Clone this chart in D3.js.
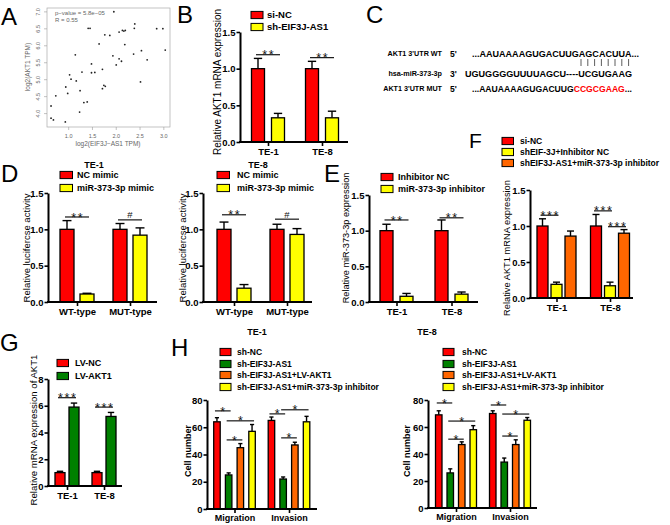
<!DOCTYPE html>
<html><head><meta charset="utf-8">
<script src="https://cdn.jsdelivr.net/npm/d3@7"></script>
<style>
body{margin:0;background:#fff;}
text{font-family:"Liberation Sans",Arial,sans-serif;}
</style></head>
<body><svg id="fig" width="670" height="525"></svg>
<script>
// ---------------- DATA ----------------
// Panel A scatter
const aX=[0.64,0.64,0.69,0.74,0.94,0.95,0.99,1.03,1.06,1.17,1.15,1.25,1.24,1.29,1.33,1.40,1.42,1.46,1.49,1.49,1.56,1.65,1.72,1.72,1.75,1.78,1.77,1.875,1.96,1.94,2.01,2.07,2.07,2.12,2.14,2.17,2.20,2.19,2.375,2.39,2.40,2.52,2.54,2.66,2.86,2.99,3.04];
const aY=[4.21,3.85,3.80,4.51,3.74,4.77,4.58,5.13,5.00,4.95,5.72,4.66,4.03,5.21,4.31,4.33,6.50,6.50,5.45,5.19,5.20,6.04,5.29,4.72,4.82,4.79,6.31,6.29,6.99,5.69,5.42,6.39,5.60,5.53,6.44,6.42,6.44,6.02,5.74,6.50,6.63,4.92,5.84,5.57,6.49,6.49,5.86];
const aXTicks=[1.0,1.5,2.0,2.5,3.0];
const aYTicks=[4.0,4.5,5.0,5.5,6.0,6.5,7.0];
const aStats=["p\u2212value = 5.8e\u221205","R = 0.55"];

// Panel B
const bGroups=["TE-1","TE-8"];
const bSeries=["si-NC","sh-EIF3J-AS1"];
const bValues=[[1.00,0.33],[1.00,0.33]];
const bErr=[[0.14,0.06],[0.10,0.09]];
const bSig=[{g:0,a:0,b:1,y:1.19,t:"**"},{g:1,a:0,b:1,y:1.15,t:"**"}];

// Panel C
const cLabels=["AKT1 3'UTR WT","hsa-miR-373-3p","AKT1 3'UTR MUT"];
const cEnds=["5'","3'","5'"];
const cWT="...AAUAAAAGUGACUUGAGCACUUA...";
const cMiR="UGUGGGGUUUUAGCU----UCGUGAAG";
const cMutA="...AAUAAAAGUGACUUG", cMutB="CCGCGAAG", cMutC="...";

// Panel D
const dGroups=["WT-type","MUT-type"];
const dSeries=["NC mimic","miR-373-3p mimic"];
const d1Values=[[1.00,0.11],[1.00,0.92]];
const d1Err=[[0.12,0.01],[0.08,0.10]];
const d1Sig=[{g:0,a:0,b:1,y:1.17,t:"**"},{g:1,a:0,b:1,y:1.13,t:"#"}];
const d8Values=[[1.00,0.19],[1.00,0.93]];
const d8Err=[[0.10,0.05],[0.07,0.08]];
const d8Sig=[{g:0,a:0,b:1,y:1.20,t:"**"},{g:1,a:0,b:1,y:1.14,t:"#"}];

// Panel E
const eGroups=["TE-1","TE-8"];
const eSeries=["Inhibitor NC","miR-373-3p inhibitor"];
const eValues=[[1.00,0.08],[1.00,0.11]];
const eErr=[[0.09,0.04],[0.15,0.03]];
const eSig=[{g:0,a:0,b:1,y:1.15,t:"**"},{g:1,a:0,b:1,y:1.18,t:"**"}];

// Panel F
const fGroups=["TE-1","TE-8"];
const fSeries=["si-NC","shEIF-3J+Inhibitor NC","shEIF3J-AS1+miR-373-3p inhibitor"];
const fValues=[[1.00,0.19,0.86],[1.00,0.17,0.90]];
const fErr=[[0.10,0.03,0.07],[0.16,0.05,0.05]];
const fSig=[{g:0,a:0,b:1,y:1.15,t:"***"},{g:1,a:0,b:1,y:1.21,t:"***"},{g:1,a:1,b:2,y:0.99,t:"***"}];

// Panel G
const gGroups=["TE-1","TE-8"];
const gSeries=["LV-NC","LV-AKT1"];
const gValues=[[1.0,5.9],[1.0,5.2]];
const gErr=[[0.1,0.3],[0.1,0.3]];
const gSig=[{g:0,a:0,b:1,y:6.6,t:"***"},{g:1,a:0,b:1,y:5.9,t:"***"}];

// Panel H
const hGroups=["Migration","Invasion"];
const hSeries=["sh-NC","sh-EIF3J-AS1","sh-EIF3J-AS1+LV-AKT1","sh-EIF3J-AS1+miR-373-3p inhibitor"];
const h1Values=[[64,25,45,57],[65,22,47,64]];
const h1Err=[[3,1.5,3,5],[2.5,1.5,2,4]];
const h1Sig=[{g:0,a:0,b:1,y:72,t:"*"},{g:0,a:1,b:3,y:64.7,t:"*"},{g:0,a:1,b:2,y:50.7,t:"*"},
             {g:1,a:0,b:1,y:69.8,t:"*"},{g:1,a:1,b:3,y:72.8,t:"*"},{g:1,a:1,b:2,y:52.2,t:"*"}];
const h8Values=[[69,26,47,58],[70,34,47,65]];
const h8Err=[[3,3,2,3],[2,3,3.5,2]];
const h8Sig=[{g:0,a:0,b:1,y:77.8,t:"*"},{g:0,a:1,b:3,y:64.4,t:"*"},{g:0,a:1,b:2,y:51,t:"*"},
             {g:1,a:0,b:1,y:76.3,t:"*"},{g:1,a:1,b:3,y:69.6,t:"*"},{g:1,a:1,b:2,y:53.3,t:"*"}];

const RED="#ff0000",YEL="#ffff00",GRN="#008000",ORG="#ff6600";

// ---------------- DRAW ----------------
const svg=d3.select("#fig");
svg.append("rect").attr("width",670).attr("height",525).attr("fill","#fff");

function panelLetter(t,x,y,s){
  svg.append("text").attr("x",x).attr("y",y).attr("font-size",s||24).attr("fill","#000").text(t);
}
panelLetter("A",1,25);panelLetter("B",177,23);panelLetter("C",366,23);
panelLetter("D",1,182);panelLetter("E",324,182);panelLetter("F",469,148,21);
panelLetter("G",0,351);panelLetter("H",171,356);

// ---- Panel A ----
(function(){
  const g=svg.append("g");
  const x=d3.scaleLinear().domain([0.555,3.14]).range([47,170]);
  const y=d3.scaleLinear().domain([3.59,7.1]).range([127,8]);
  const col="#666";
  g.append("rect").attr("x",47).attr("y",8).attr("width",123).attr("height",119)
    .attr("fill","none").attr("stroke","#aaa").attr("stroke-width",0.7);
  const xa=g.append("g").attr("transform","translate(0,127)")
    .call(d3.axisBottom(x).tickValues(aXTicks).tickSize(3).tickFormat(d3.format(".1f")));
  const ya=g.append("g").attr("transform","translate(47,0)")
    .call(d3.axisLeft(y).tickValues(aYTicks).tickSize(3).tickFormat(d3.format(".1f")));
  [xa,ya].forEach(a=>{a.select(".domain").remove();
    a.selectAll("line").attr("stroke","#999").attr("stroke-width",0.6);
    a.selectAll("text").attr("fill",col).attr("font-size",5.5);});
  xa.selectAll("text").attr("dy","0.9em");
  ya.selectAll(".tick text").each(function(){
    d3.select(this).attr("x",0).attr("dy",null).attr("text-anchor","middle")
     .attr("transform","translate(-7,0) rotate(-90)");
  });
  g.selectAll("circle").data(aX).join("circle")
    .attr("cx",(d)=>x(d)).attr("cy",(d,i)=>y(aY[i])).attr("r",0.9).attr("fill","#222");
  g.append("text").attr("x",55).attr("y",15).attr("font-size",6).attr("fill",col).text(aStats[0]);
  g.append("text").attr("x",55).attr("y",22).attr("font-size",6).attr("fill",col).text(aStats[1]);
  g.append("text").attr("x",108).attr("y",146).attr("text-anchor","middle").attr("font-size",6.5)
    .attr("fill",col).text("log2(EIF3J\u2212AS1 TPM)");
  g.append("text").attr("transform","translate(30,67) rotate(-90)").attr("text-anchor","middle")
    .attr("font-size",6.5).attr("fill",col).text("log2(AKT1 TPM)");
})();

// ---- Panel C ----
(function(){
  const g=svg.append("g");
  const rows=[53,73,88];
  cLabels.forEach((l,i)=>{
    g.append("text").attr("x",442).attr("y",rows[i]+3).attr("text-anchor","end")
      .attr("font-size",7.2).attr("font-weight","bold").text(l);
    g.append("text").attr("x",450).attr("y",rows[i]+3.5).attr("font-size",8.5)
      .attr("font-weight","bold").text(cEnds[i]);
  });
  g.append("text").attr("x",472).attr("y",rows[0]+3.5).attr("font-size",8.6).attr("font-weight","bold")
    .attr("textLength",167).attr("lengthAdjust","spacingAndGlyphs").text(cWT);
  g.append("text").attr("x",465).attr("y",rows[1]+3.5).attr("font-size",8.6).attr("font-weight","bold")
    .attr("textLength",167).attr("lengthAdjust","spacingAndGlyphs").text(cMiR);
  const t=g.append("text").attr("x",472).attr("y",rows[2]+3.5).attr("font-size",8.6).attr("font-weight","bold");
  t.append("tspan").text(cMutA);
  t.append("tspan").attr("fill","#ff0000").text(cMutB);
  t.append("tspan").text(cMutC);
  g.selectAll("line.pair").data(d3.range(8)).join("line").attr("class","pair")
    .attr("x1",d=>581+d*6.8).attr("x2",d=>581+d*6.8).attr("y1",59).attr("y2",66)
    .attr("stroke","#333").attr("stroke-width",0.8);
})();

// ---- generic bar panel ----
function barPanel(c){
  const g=svg.append("g");
  const y=d3.scaleLinear().domain([0,c.yMax]).range([c.y0,c.y1]);
  const xc=d3.scalePoint().domain(c.groups).range(c.centers);
  const ns=c.series.length;
  const off=d3.scaleLinear().domain([0,ns-1]).range([-(ns-1)*c.step/2,(ns-1)*c.step/2]);
  const bx=(gi,si)=>xc(c.groups[gi])+off(si);
  const rows=[];
  c.values.forEach((vs,gi)=>vs.forEach((v,si)=>rows.push({gi,si,v,e:c.err[gi][si]})));
  g.selectAll("line.err").data(rows).join("line").attr("class","err")
    .attr("x1",d=>bx(d.gi,d.si)).attr("x2",d=>bx(d.gi,d.si))
    .attr("y1",d=>y(d.v)).attr("y2",d=>y(d.v+d.e)).attr("stroke","#000").attr("stroke-width",1.4);
  g.selectAll("line.cap").data(rows).join("line").attr("class","cap")
    .attr("x1",d=>bx(d.gi,d.si)-c.barW*0.32).attr("x2",d=>bx(d.gi,d.si)+c.barW*0.32)
    .attr("y1",d=>y(d.v+d.e)).attr("y2",d=>y(d.v+d.e)).attr("stroke","#000").attr("stroke-width",1.4);
  g.selectAll("rect.bar").data(rows).join("rect").attr("class","bar")
    .attr("x",d=>bx(d.gi,d.si)-c.barW/2).attr("width",c.barW)
    .attr("y",d=>y(d.v)).attr("height",d=>c.y0-y(d.v))
    .attr("fill",d=>c.colors[d.si]).attr("stroke","#000").attr("stroke-width",1.3);
  // y axis
  const ya=g.append("g").attr("transform",`translate(${c.x0},0)`)
    .call(d3.axisLeft(y).tickValues(c.ticks).tickSize(3.5).tickSizeOuter(0).tickFormat(c.fmt));
  ya.select(".domain").attr("stroke-width",2);
  ya.selectAll(".tick line").attr("stroke-width",1.6);
  ya.selectAll(".tick text").attr("font-size",c.tickFs||9.5).attr("font-weight","bold")
    .attr("fill","#000").attr("x",-4.5).attr("font-family","'Liberation Sans',Arial,sans-serif");
  // x axis
  g.append("line").attr("x1",c.x0-1).attr("x2",c.x1).attr("y1",c.y0).attr("y2",c.y0)
    .attr("stroke","#000").attr("stroke-width",2);
  const xa=g.append("g").attr("transform",`translate(0,${c.y0})`)
    .call(d3.axisBottom(xc).tickSize(4).tickSizeOuter(0));
  xa.select(".domain").remove();
  xa.selectAll(".tick line").attr("stroke-width",1.6);
  xa.selectAll(".tick text").attr("font-size",c.xFs||9.5).attr("font-weight","bold")
    .attr("fill","#000").attr("y",4.5).attr("dy","0.85em").attr("font-family","'Liberation Sans',Arial,sans-serif");
  // significance
  c.sig.forEach(s=>{
    const xa1=bx(s.g,s.a)-2, xb=bx(s.g,s.b)+2, yy=y(s.y);
    g.append("line").attr("x1",xa1).attr("x2",xb).attr("y1",yy).attr("y2",yy)
      .attr("stroke","#000").attr("stroke-width",1.1);
    const star=s.t!=="#";
    g.append("text").attr("x",(xa1+xb)/2+(star?0.8:0)).attr("y",star?yy+4.6:yy-1.5).attr("text-anchor","middle")
      .attr("font-size",star?12.5:9.5).attr("letter-spacing",star?"1.6px":null)
      .attr("fill","#111").text(s.t);
  });
  // legend
  const L=c.legend;
  c.series.forEach((s,i)=>{
    g.append("rect").attr("x",L.x).attr("y",L.rows[i]-3.6).attr("width",L.w).attr("height",7.2)
      .attr("fill",c.colors[i]).attr("stroke","#000").attr("stroke-width",1);
    g.append("text").attr("x",L.tx).attr("y",L.rows[i]+3.3).attr("font-size",L.fs)
      .attr("font-weight","bold").text(s);
  });
  if(c.title) g.append("text").attr("x",c.title[1]).attr("y",c.title[2]).attr("text-anchor","middle")
      .attr("font-size",9).attr("font-weight","bold").text(c.title[0]);
  g.append("text").attr("transform",`translate(${c.yl.x},${c.yl.y}) rotate(-90)`)
    .attr("text-anchor","middle").attr("font-size",c.yl.fs).attr("font-weight",c.yl.bold?"bold":"normal")
    .text(c.yl.t);
}
const f1=d3.format(".1f"), f0=d3.format("d");

barPanel({groups:bGroups,series:bSeries,values:bValues,err:bErr,sig:bSig,colors:[RED,YEL],
  x0:240,x1:348,y0:142,y1:32,yMax:1.5,ticks:[0,0.5,1.0,1.5],fmt:f1,centers:[268,322],step:20,barW:13,
  legend:{x:251,w:12,tx:267,rows:[15,27],fs:9.5},
  yl:{x:221,y:82,t:"Relative AKT1 mRNA expression",fs:10}});

barPanel({groups:dGroups,series:dSeries,values:d1Values,err:d1Err,sig:d1Sig,colors:[RED,YEL],
  x0:48,x1:157,y0:302,y1:193,yMax:1.5,ticks:[0,0.5,1.0,1.5],fmt:f1,centers:[77,130],step:20,barW:14,
  legend:{x:60,w:12.5,tx:77,rows:[175,188],fs:9},title:["TE-1",94,168],
  yl:{x:30,y:248,t:"Relative lucifercse activity",fs:9.5}});

barPanel({groups:dGroups,series:dSeries,values:d8Values,err:d8Err,sig:d8Sig,colors:[RED,YEL],
  x0:203,x1:312,y0:302,y1:193,yMax:1.5,ticks:[0,0.5,1.0,1.5],fmt:f1,centers:[234,287],step:20,barW:14,
  legend:{x:217,w:12.5,tx:237,rows:[175,188],fs:9},title:["TE-8",258,168],
  yl:{x:186,y:248,t:"Relative lucifercse activity",fs:9.5}});

barPanel({groups:eGroups,series:eSeries,values:eValues,err:eErr,sig:eSig,colors:[RED,YEL],
  x0:369,x1:478,y0:302,y1:195,yMax:1.5,ticks:[0,0.5,1.0,1.5],fmt:f1,centers:[396.5,451.5],step:20,barW:13,
  legend:{x:381,w:12,tx:398,rows:[177,189],fs:9},
  yl:{x:349,y:238,t:"Relative miR-373-3p expression",fs:9.2}});

barPanel({groups:fGroups,series:fSeries,values:fValues,err:fErr,sig:fSig,colors:[RED,YEL,ORG],
  x0:530,x1:633,y0:298,y1:190,yMax:1.5,ticks:[0,0.5,1.0,1.5],fmt:f1,centers:[556.5,610],step:14,barW:11,
  legend:{x:502,w:11.5,tx:520,rows:[141,152,163],fs:8.5},
  yl:{x:510,y:248,t:"Relative AKT1 mRNA expression",fs:9.3}});

barPanel({groups:gGroups,series:gSeries,values:gValues,err:gErr,sig:gSig,colors:[RED,GRN],
  x0:48,x1:122,y0:486,y1:379,yMax:8,ticks:[0,2,4,6,8],fmt:f0,centers:[67,104],step:14,barW:10,
  legend:{x:57,w:11.5,tx:75,rows:[363,376],fs:9},
  yl:{x:37,y:430,t:"Relative  mRNA expression of AKT1",fs:9.6}});

barPanel({groups:hGroups,series:hSeries,values:h1Values,err:h1Err,sig:h1Sig,colors:[RED,GRN,ORG,YEL],
  x0:207,x1:317,y0:509,y1:400,yMax:80,ticks:[0,20,40,60,80],fmt:f0,centers:[234.5,289],step:11.7,barW:6.5,
  legend:{x:220,w:11,tx:237,rows:[352,364,375,387],fs:8.5},title:["TE-1",257,335],xFs:9,
  yl:{x:191,y:451,t:"Cell number",fs:9,bold:true}});

barPanel({groups:hGroups,series:hSeries,values:h8Values,err:h8Err,sig:h8Sig,colors:[RED,GRN,ORG,YEL],
  x0:428,x1:537,y0:508,y1:400,yMax:80,ticks:[0,20,40,60,80],fmt:f0,centers:[456,510],step:11.5,barW:6.5,
  legend:{x:443,w:11,tx:462,rows:[352,364,375,387],fs:8.5},title:["TE-8",427,335],xFs:9,
  yl:{x:410,y:451,t:"Cell number",fs:9,bold:true}});
</script></body></html>
